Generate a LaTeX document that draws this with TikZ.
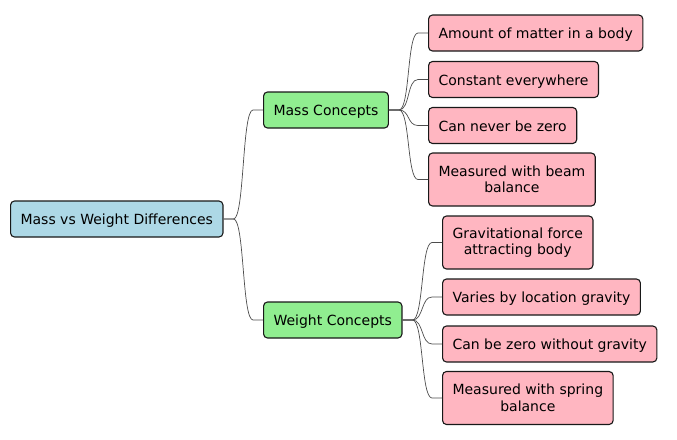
\documentclass[tikz,border=0pt]{standalone}
\usepackage{fontspec}
\setmainfont{DejaVu Sans}
\usetikzlibrary{calc}
\definecolor{rootc}{HTML}{ADD8E6}
\definecolor{midc}{HTML}{90EE90}
\definecolor{leafc}{HTML}{FFB6C1}
\definecolor{edgec}{HTML}{181818}
\tikzset{
  box/.style={draw=edgec, line width=1.1pt, rounded corners=4pt, anchor=west,
    inner xsep=10pt, inner ysep=0pt, align=center,
    font=\fontsize{14}{16.5}\selectfont, minimum height=36pt},
  single/.style={text height=12pt, text depth=1pt},
  tall/.style={minimum height=53pt},
  rootbox/.style={box, single, fill=rootc},
  midbox/.style={box, single, fill=midc},
  leafbox/.style={box, single, fill=leafc},
  tallleaf/.style={box, tall, fill=leafc},
  conn/.style={draw=black!70, line width=0.7pt}
}
\newcommand{\link}[2]{%
  \draw[conn] (#1.east) -- ++(10,0) coordinate (s#1#2)
    .. controls ($(s#1#2)+(11,0)$) and ($([xshift=-10pt]#2.west)+(-11,0)$) ..
    ([xshift=-10pt]#2.west) -- (#2.west);}
\begin{document}
\begin{tikzpicture}[x=1pt,y=-1pt]
\useasboundingbox (0,0) rectangle (677,439);
\node[rootbox] (root) at (10,219) {Mass vs Weight Differences};
\node[midbox] (mass) at (263,110) {Mass Concepts};
\node[midbox] (weight) at (263,320) {Weight Concepts};
\node[leafbox] (m1) at (428,33) {Amount of matter in a body};
\node[leafbox] (m2) at (428,79.5) {Constant everywhere};
\node[leafbox] (m3) at (428,125.5) {Can never be zero};
\node[tallleaf] (m4) at (428,179.5) {Measured with beam\\balance};
\node[tallleaf] (w1) at (442,242.5) {Gravitational force\\attracting body};
\node[leafbox] (w2) at (442,297) {Varies by location gravity};
\node[leafbox] (w3) at (442,344) {Can be zero without gravity};
\node[tallleaf] (w4) at (442,398) {Measured with spring\\balance};
\link{root}{mass}
\link{root}{weight}
\link{mass}{m1}
\link{mass}{m2}
\link{mass}{m3}
\link{mass}{m4}
\link{weight}{w1}
\link{weight}{w2}
\link{weight}{w3}
\link{weight}{w4}
\end{tikzpicture}
\end{document}
